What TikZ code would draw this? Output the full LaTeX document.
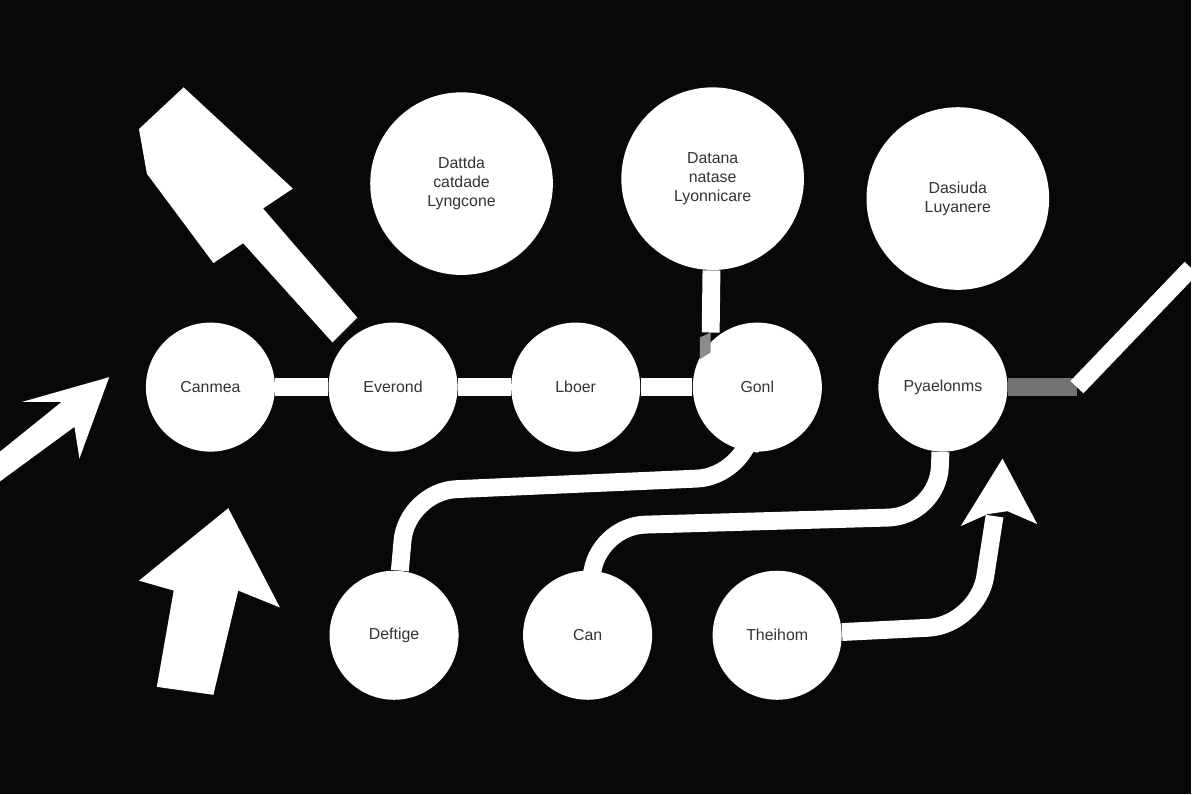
\documentclass[tikz,border=0pt]{standalone}
\usepackage{fontspec}
\setmainfont{Liberation Sans}
\usepackage{tikz}

\begin{document}
\begin{tikzpicture}[x=0.5pt,y=-0.5pt]
  \tikzset{
    disc/.style={circle,fill=white,inner sep=0pt,align=center,font=\footnotesize,text=black!80,minimum size=65pt},
    big/.style={disc,minimum size=92pt},
    wire/.style={draw=white,line width=9pt},
  }
  \fill[black!97] (0,0) rectangle (1200,800);

  % big arrows
  \fill[white] (0,455) -- (62,405) -- (22,405) -- (110,380) -- (80,462) -- (75,430) -- (0,485) -- cycle;
  \fill[white] (335,345) -- (245,245) -- (215,265) -- (148,175) -- (140,130) -- (185,88) -- (295,190) -- (265,210) -- (360,320) -- cycle;
  \fill[white] (158,692) -- (175,595) -- (140,585) -- (230,512) -- (282,612) -- (240,595) -- (215,700) -- cycle;

  % nodes
  \node[disc] (canmea) at (212,390) {Canmea};
  \node[disc] (evernd) at (396,390) {Everond};
  \node[disc] (lboer) at (580,390) {Lboer};
  \node[disc] (goni) at (763,390) {Gonl};
  \node[disc] (pyael) at (950,390) {Pyaelonms};
  \node[big] (top1) at (465,185) {Dattda\\catdade\\Lyngcone};
  \node[big] (top2) at (718,180) {Datana\\natase\\Lyonnicare};
  \node[big] (top3) at (965,200) {Dasiuda\\Luyanere};
  \node[disc] (deft) at (397,640) {Deftige};
  \node[disc] (can) at (592,640) {Can};
  \node[disc] (theih) at (783,640) {Theihom};

  \coordinate (stub) at (716,335);
  \coordinate (grey) at (1085,390);
  \coordinate (exit) at (1200,270);

  % connectors
  \draw[wire] (canmea) -- (evernd);
  \draw[wire] (evernd) -- (lboer);
  \draw[wire] (lboer) -- (goni);
  \draw[wire] (stub) -- (top2);
  \draw[wire,rounded corners=25] (goni) -- (752,480) -- (410,495) -- (deft);
  \draw[wire,rounded corners=25] (can) -- (600,530) -- (945,520) -- (pyael);
  \draw[wire,rounded corners=25] (theih) -- (985,630) -- (1002,520);
  \draw[draw=black!55,line width=9pt] (pyael) -- (grey);
  \draw[wire] (grey) -- (exit);
  \fill[white] (968,530) -- (1010,462) -- (1045,528) -- (1015,515) -- (995,518) -- cycle;
  \fill[black!45] (705,340) -- (716,335) -- (716,355) -- (705,362) -- cycle;
\end{tikzpicture}
\end{document}
